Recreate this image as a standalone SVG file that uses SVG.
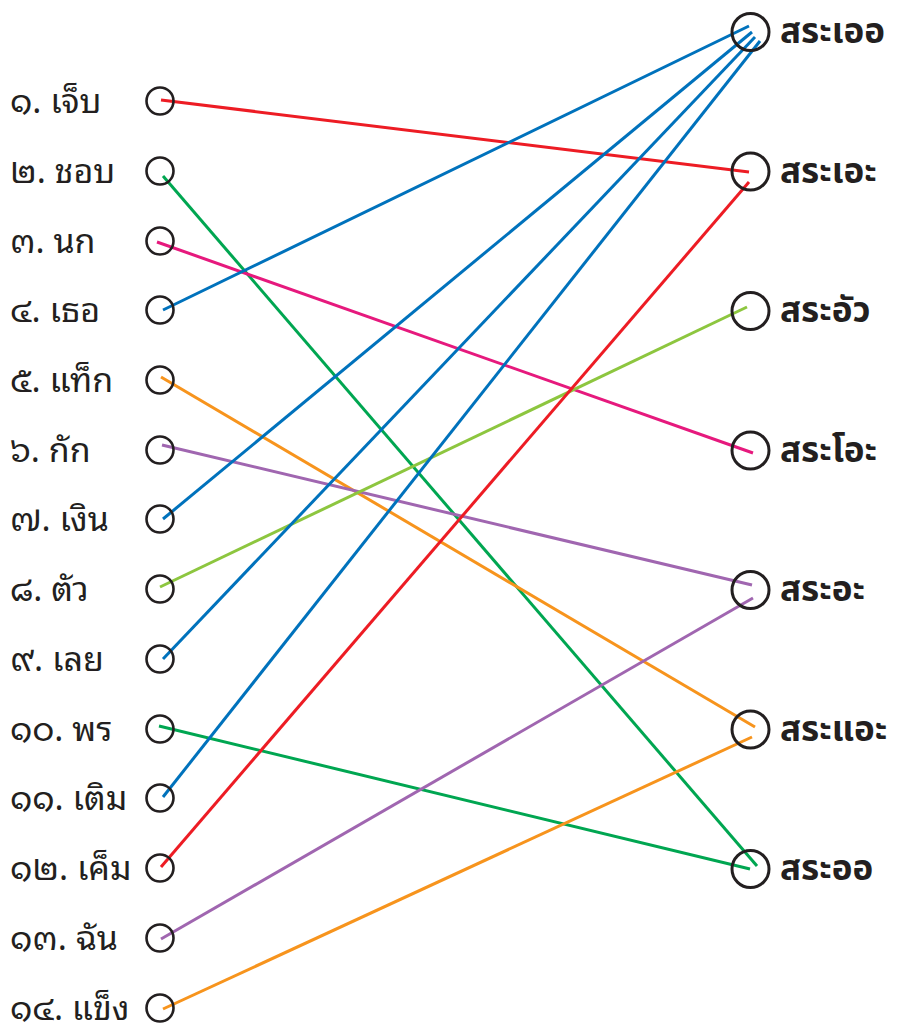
<svg xmlns="http://www.w3.org/2000/svg" width="899" height="1026" viewBox="0 0 899 1026">
<style>
.bg{fill:#ffffff}
.lc{fill:none;stroke:#231f20;stroke-width:2.6}
.rc{fill:none;stroke:#231f20;stroke-width:3}
.lt{font-family:"Noto Sans Thai Looped","Noto Sans Thai","Noto Sans",sans-serif;font-size:34px;fill:#231f20}
.rt{font-family:"Noto Sans Thai","Noto Sans","DejaVu Sans",sans-serif;font-size:35px;font-weight:bold;fill:#231f20}
#connectors line{stroke-width:3;stroke-linecap:butt}
.red{stroke:#ed1c24}.green{stroke:#00a651}.pink{stroke:#e6197d}.blue{stroke:#0072bc}
.orange{stroke:#f7941d}.purple{stroke:#a066b0}.lime{stroke:#8dc63f}
</style>
<rect class="bg" x="0" y="0" width="899" height="1026"/>
<g id="connectors">
<line class="red" x1="161" y1="100" x2="749" y2="172"/>
<line class="green" x1="163" y1="176" x2="757" y2="866"/>
<line class="pink" x1="157" y1="242" x2="753" y2="453"/>
<line class="blue" x1="163" y1="310" x2="749" y2="26"/>
<line class="orange" x1="161" y1="377" x2="755" y2="727"/>
<line class="purple" x1="162" y1="445" x2="752" y2="585"/>
<line class="blue" x1="163" y1="519" x2="752" y2="32"/>
<line class="lime" x1="160" y1="587" x2="747" y2="307"/>
<line class="blue" x1="163" y1="659" x2="755" y2="37"/>
<line class="green" x1="159" y1="726" x2="750" y2="869"/>
<line class="blue" x1="163" y1="797" x2="760" y2="41"/>
<line class="red" x1="161" y1="867" x2="749" y2="182"/>
<line class="purple" x1="161" y1="939" x2="753" y2="598"/>
<line class="orange" x1="163" y1="1009" x2="752" y2="737"/>
</g>
<g id="L1"><circle class="lc" cx="160" cy="101" r="13.5"/><text class="lt" x="10" y="113">๑. เจ็บ</text></g>
<g id="L2"><circle class="lc" cx="160" cy="171" r="13.5"/><text class="lt" x="10" y="183">๒. ชอบ</text></g>
<g id="L3"><circle class="lc" cx="160" cy="241" r="13.5"/><text class="lt" x="10" y="253">๓. นก</text></g>
<g id="L4"><circle class="lc" cx="160" cy="310" r="13.5"/><text class="lt" x="10" y="322">๔. เธอ</text></g>
<g id="L5"><circle class="lc" cx="160" cy="380" r="13.5"/><text class="lt" x="10" y="392">๕. แท็ก</text></g>
<g id="L6"><circle class="lc" cx="160" cy="450" r="13.5"/><text class="lt" x="10" y="462">๖. กัก</text></g>
<g id="L7"><circle class="lc" cx="160" cy="519" r="13.5"/><text class="lt" x="10" y="531">๗. เงิน</text></g>
<g id="L8"><circle class="lc" cx="160" cy="589" r="13.5"/><text class="lt" x="10" y="601">๘. ตัว</text></g>
<g id="L9"><circle class="lc" cx="160" cy="659" r="13.5"/><text class="lt" x="10" y="671">๙. เลย</text></g>
<g id="L10"><circle class="lc" cx="160" cy="729" r="13.5"/><text class="lt" x="10" y="741">๑๐. พร</text></g>
<g id="L11"><circle class="lc" cx="160" cy="798" r="13.5"/><text class="lt" x="10" y="810">๑๑. เติม</text></g>
<g id="L12"><circle class="lc" cx="160" cy="868" r="13.5"/><text class="lt" x="10" y="880">๑๒. เค็ม</text></g>
<g id="L13"><circle class="lc" cx="160" cy="938" r="13.5"/><text class="lt" x="10" y="950">๑๓. ฉัน</text></g>
<g id="L14"><circle class="lc" cx="160" cy="1008" r="13.5"/><text class="lt" x="10" y="1020">๑๔. แข็ง</text></g>
<g id="R1"><circle class="rc" cx="750.5" cy="32" r="18.5"/><text class="rt" x="780" y="43">สระเออ</text></g>
<g id="R2"><circle class="rc" cx="750.5" cy="171.5" r="18.5"/><text class="rt" x="780" y="182.5">สระเอะ</text></g>
<g id="R3"><circle class="rc" cx="750.5" cy="311" r="18.5"/><text class="rt" x="780" y="322">สระอัว</text></g>
<g id="R4"><circle class="rc" cx="750.5" cy="450.5" r="18.5"/><text class="rt" x="780" y="461.5">สระโอะ</text></g>
<g id="R5"><circle class="rc" cx="750.5" cy="590" r="18.5"/><text class="rt" x="780" y="601">สระอะ</text></g>
<g id="R6"><circle class="rc" cx="750.5" cy="729.5" r="18.5"/><text class="rt" x="780" y="740.5">สระแอะ</text></g>
<g id="R7"><circle class="rc" cx="750.5" cy="869" r="18.5"/><text class="rt" x="780" y="880">สระออ</text></g>
</svg>
